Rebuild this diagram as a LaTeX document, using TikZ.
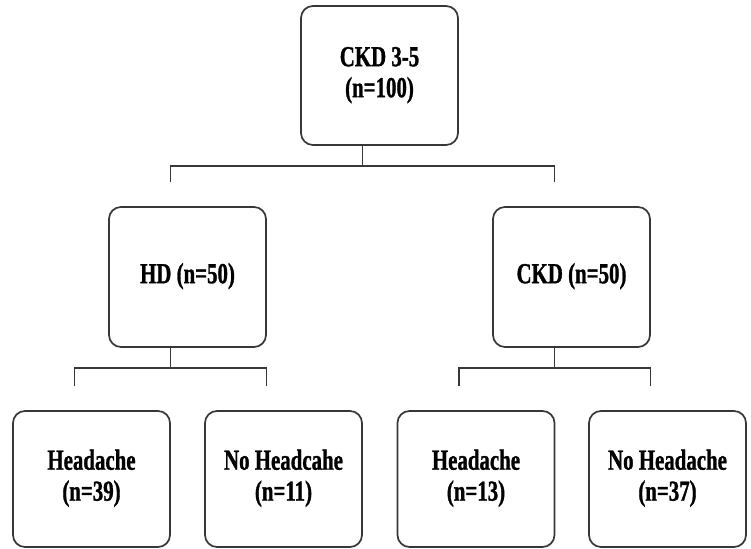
\documentclass[tikz,border=0pt]{standalone}
\usepackage{fontspec}
\newfontfamily\pboxfont{Liberation Serif Bold}[FakeBold=1.3]
\usetikzlibrary{calc}
\definecolor{gray1}{RGB}{55, 55, 55}
\newcommand{\boxtext}[1]{\scalebox{0.72}[1]{\begin{tabular}{@{}c@{}}#1\end{tabular}}}
\tikzset{pbox/.style={draw=gray1, rounded corners=12pt, minimum width=157pt, inner sep=0pt, align=center, font=\fontsize{29}{31}\selectfont\pboxfont}}

\begin{document}
\begin{tikzpicture}[x=1pt, y=1pt, line width=1.7pt]
  \useasboundingbox (0,0) rectangle (751,548);
  \node[pbox, minimum height=139pt] (n1) at (379.5,472.5) {\boxtext{CKD 3-5\\(n=100)}};
  \node[pbox, minimum height=140pt] (n2) at (187.5,271) {\boxtext{HD (n=50)}};
  \node[pbox, minimum height=140pt] (n3) at (571.5,271) {\boxtext{CKD (n=50)}};
  \node[pbox, minimum height=136pt] (n4) at (91.5,69) {\boxtext{Headache\\(n=39)}};
  \node[pbox, minimum height=136pt] (n5) at (283.5,69) {\boxtext{No Headcahe\\(n=11)}};
  \node[pbox, minimum height=136pt] (n6) at (476,69) {\boxtext{Headache\\(n=13)}};
  \node[pbox, minimum height=136pt] (n7) at (667.5,69) {\raisebox{4pt}{\boxtext{No Headache\\(n=37)}}};
  % elbow connectors, a bit left of centre
  \foreach \src/\ca/\cb in {n1/n2/n3, n2/n4/n5, n3/n6/n7}
  {
   \draw[gray1] ([xshift=-17pt]\src.south) -- ++(0,-20) coordinate (bar);
   \draw[gray1] ([xshift=-17pt,yshift=24pt]\ca.north) |- (bar) -| ([xshift=-17pt,yshift=24pt]\cb.north);
  }
\end{tikzpicture}
\end{document}
